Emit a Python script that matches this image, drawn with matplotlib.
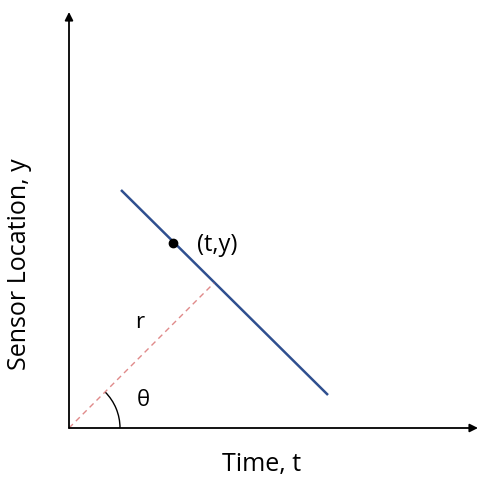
import numpy as np
import matplotlib.pyplot as plt
from matplotlib.patches import Arc

# Data (pixel-like units, origin at axis corner)
line_t = [52, 259]
line_y = [238, 33]
point_t, point_y = 104, 185
foot_t, foot_y = 145, 145
arc_radius = 51
axis_end_t, axis_end_y = 409, 416

plt.rcParams['font.family'] = ['Open Sans', 'DejaVu Sans']

fig = plt.figure(figsize=(4.78, 4.79), dpi=100)
ax = fig.add_axes([0, 0, 1, 1])
ax.set_xlim(-69, 409)
ax.set_ylim(-51, 428)
ax.axis('off')

# axes with arrow heads
ax.annotate('', xy=(axis_end_t, 0), xytext=(0, 0),
            arrowprops=dict(arrowstyle='-|>', color='black', lw=1.3,
                            mutation_scale=12, shrinkA=0, shrinkB=0))
ax.annotate('', xy=(0, axis_end_y), xytext=(0, 0),
            arrowprops=dict(arrowstyle='-|>', color='black', lw=1.3,
                            mutation_scale=12, shrinkA=0, shrinkB=0))

# the line
ax.plot(line_t, line_y, color='#2f4f8f', lw=1.8, solid_capstyle='butt')
ax.plot(point_t, point_y, 'o', color='black', ms=6)
ax.text(point_t + 24, point_y - 2, '(t,y)', fontsize=17, va='center', ha='left')

# perpendicular r
ax.plot([0, foot_t], [0, foot_y], color='#e08a8a', lw=1, ls=(0, (4, 3)))
ax.text(71, 106, 'r', fontsize=16, ha='center', va='center')

# angle
theta = np.degrees(np.arctan2(foot_y, foot_t))
ax.add_patch(Arc((0, 0), 2 * arc_radius, 2 * arc_radius, theta1=0, theta2=theta,
                 color='black', lw=1))
ax.text(74, 28, 'θ', fontsize=16, ha='center', va='center')

ax.text(193, -37, 'Time, t', fontsize=18, ha='center', va='center')
ax.text(-49, 164, 'Sensor Location, y', fontsize=18, ha='center', va='center',
        rotation=90)

fig.savefig('out.png', dpi=100)
